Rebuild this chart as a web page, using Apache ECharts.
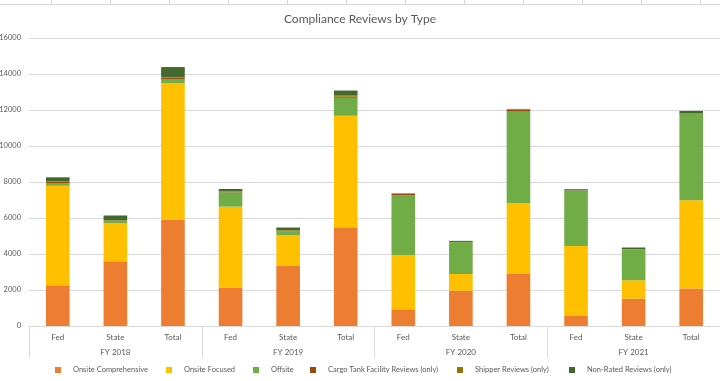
<!DOCTYPE html>
<html>
<head>
<meta charset="utf-8">
<script src="https://cdn.jsdelivr.net/npm/echarts@6/dist/echarts.min.js"></script>
<style>
html,body{margin:0;padding:0;background:#fff;}
#chart{width:720px;height:381px;}
</style>
</head>
<body>
<div id="chart"></div>
<script>
var categories = ['Fed','State','Total','Fed','State','Total','Fed','State','Total','Fed','State','Total'];
var groups = ['FY 2018','FY 2019','FY 2020','FY 2021'];
var seriesNames = ['Onsite Comprehensive','Onsite Focused','Offsite','Cargo Tank Facility Reviews (only)','Shipper Reviews (only)','Non-Rated Reviews (only)'];
var onsiteComprehensive = [2270, 3600, 5900, 2130, 3330, 5480, 930, 1960, 2890, 560, 1520, 2080];
var onsiteFocused       = [5520, 2100, 7600, 4500, 1720, 6200, 3010, 930, 3930, 3890, 1020, 4900];
var offsite             = [140, 130, 220, 800, 220, 1000, 3340, 1770, 5120, 3070, 1720, 4820];
var cargoTank           = [80, 20, 80, 40, 20, 60, 70, 0, 80, 10, 0, 10];
var shipper             = [20, 20, 30, 30, 30, 60, 20, 10, 20, 0, 10, 0];
var nonRated            = [230, 270, 555, 110, 150, 280, 10, 60, 20, 70, 90, 140];
var yTicks = [0, 2000, 4000, 6000, 8000, 10000, 12000, 14000, 16000];

var colors = ['#ED7D31','#FFC000','#70AD47','#9E480E','#997300','#43682B'];
var values = [onsiteComprehensive, onsiteFocused, offsite, cargoTank, shipper, nonRated];
var legendLeft = [55, 166, 253, 310, 457, 569];
var FONT = 'Lato';
var GREY = '#595959';

var series = seriesNames.map(function(n, i){
  return {
    name: n, type: 'bar', stack: 'all', xAxisIndex: 0,
    barWidth: '41%',
    itemStyle: { color: colors[i] },
    data: values[i]
  };
});

var legends = seriesNames.map(function(n, i){
  return {
    data: [n], left: legendLeft[i], top: 366, padding: 0,
    icon: 'rect', itemWidth: 6, itemHeight: 6,
    textStyle: { fontFamily: FONT, fontSize: 7.5, color: GREY, padding: [0,0,0,7] }
  };
});

var topLines = [];
topLines.push({ type: 'line', shape: {x1:0, y1:4.5, x2:720, y2:4.5}, style: {stroke:'#d6d6d6', lineWidth:1} });
[51,110,169,228,287,346,405,464,523,582,641,700].forEach(function(x){
  topLines.push({ type: 'line', shape: {x1:x+0.5, y1:0, x2:x+0.5, y2:4}, style: {stroke:'#d6d6d6', lineWidth:1} });
});

var chart = echarts.init(document.getElementById('chart'), null, {renderer:'canvas'});
chart.setOption({
  animation: false,
  backgroundColor: '#fff',
  title: {
    text: 'Compliance Reviews by Type', left: 'center', top: 8,
    textStyle: { fontFamily: FONT, fontSize: 12, fontWeight: 'normal', color: GREY }
  },
  legend: legends,
  graphic: topLines,
  grid: { left: 29, right: 0, top: 38, bottom: 55, containLabel: false, outerBoundsMode: 'none' },
  xAxis: [
    {
      type: 'category', data: categories, position: 'bottom',
      axisLine: { show: true, lineStyle: { color: '#d9d9d9' } },
      axisTick: { show: false },
      axisLabel: { fontFamily: FONT, fontSize: 8, color: GREY, margin: 7, interval: 0 }
    },
    {
      type: 'category', data: groups, position: 'bottom', offset: 0,
      axisLine: { show: false },
      axisTick: { show: true, length: 32, interval: 0, lineStyle: { color: '#d9d9d9' } },
      axisLabel: { fontFamily: FONT, fontSize: 8, color: GREY, margin: 22, interval: 0 }
    }
  ],
  yAxis: {
    type: 'value', min: yTicks[0], max: yTicks[yTicks.length-1], interval: 2000,
    axisLine: { show: false }, axisTick: { show: false },
    splitLine: { lineStyle: { color: '#d9d9d9' } },
    axisLabel: { fontFamily: FONT, fontSize: 7.5, color: GREY, margin: 8,
      formatter: function(v){ return String(v); } }
  },
  series: series
});
</script>
</body>
</html>
